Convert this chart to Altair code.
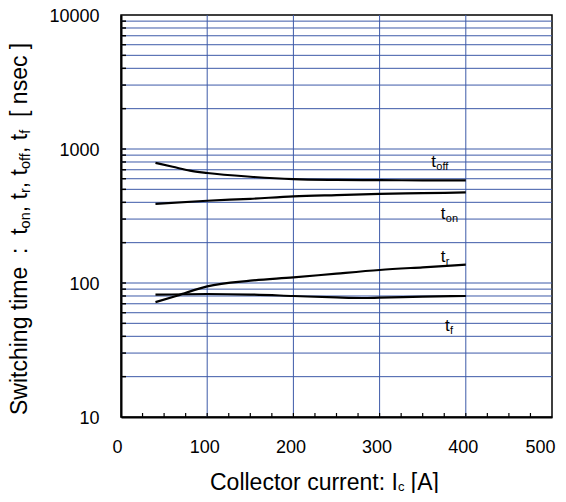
import altair as alt
import pandas as pd

# ---- data ----
toff_x = [40, 60, 80, 100, 150, 200, 250, 300, 350, 400]
toff_y = [787, 737, 689, 662, 621, 596, 588, 585, 584, 583]
ton_x = [40, 100, 150, 200, 250, 300, 350, 400]
ton_y = [389, 411, 425, 443, 453, 462, 468, 474]
tr_x = [40, 65, 100, 150, 200, 250, 300, 350, 400]
tr_y = [72, 80.4, 94.4, 104, 110, 117.5, 125, 131, 137]
tf_x = [40, 100, 150, 200, 250, 280, 300, 350, 400]
tf_y = [81.8, 82.8, 82, 80, 78, 77.3, 77.7, 79, 80]

label_x = [360, 371, 371, 376]
label_y = [734, 300, 143, 44]
label_sub = ["off", "on", "r", "f"]

x_tick_labels = [0, 100, 200, 300, 400, 500]
y_tick_labels = [10, 100, 1000, 10000]
x_grid = [100, 200, 300, 400]
x_minor = [25, 50, 75, 100, 125, 150, 175, 200, 225, 250, 275, 300, 325,
           350, 375, 400, 425, 450, 475]
y_grid = [20, 30, 40, 50, 60, 70, 80, 90, 100,
          200, 300, 400, 500, 600, 700, 800, 900, 1000,
          2000, 3000, 4000, 5000, 6000, 7000, 8000, 9000]

FONT = "Liberation Sans"
GRID = "#3d5aa8"
W, H = 431, 402
PAD_L, PAD_T = 113, 7
OX, OY = 8 + PAD_L, 8 + PAD_T  # plot origin in page pixels
NB = "\u00a0"

rows = []
for name, xs_, ys_ in [("toff", toff_x, toff_y), ("ton", ton_x, ton_y),
                       ("tr", tr_x, tr_y), ("tf", tf_x, tf_y)]:
    for a, b in zip(xs_, ys_):
        rows.append({"series": name, "x": a, "y": b})
lines_df = pd.DataFrame(rows)
labels_df = pd.DataFrame({"x": label_x, "y": label_y, "sub": label_sub})

xs = alt.Scale(type="linear", domain=[0, 500], nice=False, zero=False)
ys = alt.Scale(type="log", domain=[10, 10000], nice=False)

ax_x = alt.Axis(values=x_tick_labels, grid=False, ticks=False, domain=True,
                domainColor="black", domainWidth=2, labelFont=FONT,
                labelFontSize=18, labelColor="black", labelPadding=21,
                labelOffset=-3, title=None, labelFlush=True,
                labelFlushOffset=6)
ax_y = alt.Axis(values=y_tick_labels, format="d", grid=False, ticks=False,
                domain=True, domainColor="black", domainWidth=2,
                labelFont=FONT, labelFontSize=18, labelColor="black",
                labelPadding=22, labelOffset=1.5, title=None,
                labelFlush=False)

one = pd.DataFrame({"a": [0]})

hgrid = alt.Chart(pd.DataFrame({"v": y_grid})).mark_rule(
    color=GRID, strokeWidth=1).encode(y=alt.Y("v:Q", scale=ys, axis=ax_y))
vgrid = alt.Chart(pd.DataFrame({"v": x_grid})).mark_rule(
    color=GRID, strokeWidth=1).encode(x=alt.X("v:Q", scale=xs, axis=ax_x))
yticks = alt.Chart(pd.DataFrame({"v": y_grid})).mark_rule(
    color="black", strokeWidth=1.5).encode(
    y=alt.Y("v:Q", scale=ys, axis=ax_y), x=alt.value(0), x2=alt.value(5))
xticks = alt.Chart(pd.DataFrame({"v": x_minor})).mark_rule(
    color="black", strokeWidth=1.2).encode(
    x=alt.X("v:Q", scale=xs, axis=ax_x), y=alt.value(H), y2=alt.value(H - 4))

lines = alt.Chart(lines_df).mark_line(
    color="black", strokeWidth=2.2, interpolate="monotone").encode(
    x=alt.X("x:Q", scale=xs, axis=ax_x),
    y=alt.Y("y:Q", scale=ys, axis=ax_y),
    detail="series:N")

lab_t = alt.Chart(labels_df).mark_text(
    text="t", font=FONT, fontSize=17, align="left", baseline="alphabetic",
    color="black").encode(
    x=alt.X("x:Q", scale=xs, axis=ax_x), y=alt.Y("y:Q", scale=ys, axis=ax_y))
lab_s = alt.Chart(labels_df).mark_text(
    font=FONT, fontSize=11, align="left", baseline="alphabetic",
    color="black", dx=5, dy=3).encode(
    x=alt.X("x:Q", scale=xs, axis=ax_x), y=alt.Y("y:Q", scale=ys, axis=ax_y),
    text="sub:N")

# ---- rich-text titles built from pieces ----
WID = {" ": 278, NB: 278, ":": 278, ",": 278, "[": 278, "]": 278, "A": 667,
       "C": 722, "I": 278, "S": 667, "a": 556, "c": 500, "e": 556, "f": 278,
       "g": 556, "h": 556, "i": 222, "l": 222, "m": 833, "n": 556, "o": 556,
       "r": 333, "s": 500, "t": 278, "u": 556, "w": 722}


def tw(s, size):
    return sum(WID.get(ch, 556) for ch in s) * size / 1000.0


title_layers = []
F = 23
SF = 14.5
# (text, font size, baseline shift); text None = blank gap of that many spaces
ypieces = [("Switching time" + NB * 2 + ":" + NB * 2 + "t", F, 0),
           ("on", SF, 3), ("," + NB + "t", F, 0),
           ("r", SF, 3), ("," + NB + "t", F, 0),
           ("off", SF, 3), ("," + NB + "t", F, 0),
           ("f", SF, 3), (None, F, 2),
           ("[" + NB + "nsec" + NB + "]", F, 0)]
y0 = 415 - OY
xb = 26.5 - OX
cum = 0.0
for txt, size, sh in ypieces:
    if txt is None:
        cum += tw(" " * sh, size)
        continue
    title_layers.append(alt.Chart(one).mark_text(
        text=txt, font=FONT, fontSize=size, angle=270, align="left",
        baseline="alphabetic", color="black").encode(
        x=alt.value(xb + sh), y=alt.value(y0 - cum)))
    cum += tw(txt, size)

XF = 23
xpieces = [("Collector current:" + NB + "I", XF, 0), ("c", 13, 1),
           (None, XF, 1), ("[A]", XF, 0)]
xstart = 210 - OX
ybase = 490 - OY
cum = 0.0
for txt, size, sh in xpieces:
    if txt is None:
        cum += tw(" " * sh, size)
        continue
    title_layers.append(alt.Chart(one).mark_text(
        text=txt, font=FONT, fontSize=size, align="left",
        baseline="alphabetic", color="black").encode(
        x=alt.value(xstart + cum), y=alt.value(ybase + sh)))
    cum += tw(txt, size)

chart = alt.layer(hgrid, vgrid, yticks, xticks, lines, lab_t, lab_s,
                  *title_layers).properties(
    width=W, height=H,
    autosize=alt.AutoSizeParams(type="none"),
    padding={"left": PAD_L, "top": PAD_T, "right": 6, "bottom": 76},
    background="white",
).configure_view(stroke="black", strokeWidth=1.5)

chart.save("out.html", embed_options={"renderer": "svg", "actions": False})
